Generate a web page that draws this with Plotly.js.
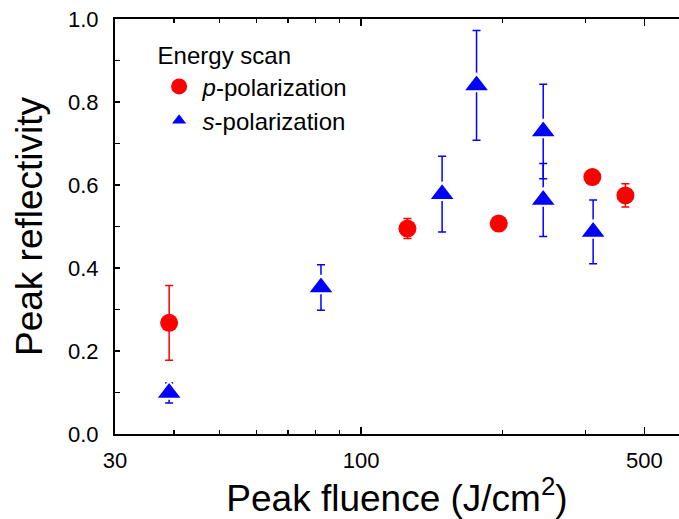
<!DOCTYPE html>
<html>
<head>
<meta charset="utf-8">
<script src="https://cdn.plot.ly/plotly-3.0.1.min.js"></script>
<style>
  html, body { margin: 0; padding: 0; background: #fff; overflow: hidden; }
  #chart { width: 679px; height: 519px; }
</style>
</head>
<body>
<div id="chart"></div>
<script>
// ---- data ----
// x axis: log scale; tick positions and the labels printed at them
const xTickVals = [30, 100, 400];
const xTickText = ["30", "100", "500"];
const xMinorVals = [40, 50, 60, 70, 80, 90, 200, 300];

// p-polarization (red circles)
const pFluence = [39.1, 125.5, 196.2, 310.2, 364.7];
const pRefl    = [0.268, 0.495, 0.507, 0.619, 0.575];
const pErr     = [0.090, 0.024, 0.0, 0.0, 0.028];

// s-polarization (blue triangles)
const sFluence = [39.1, 82.2, 148.7, 176.0, 243.9, 243.9, 311.4];
const sRefl    = [0.099, 0.353, 0.578, 0.840, 0.729, 0.564, 0.487];
const sErr     = [0.024, 0.055, 0.091, 0.132, 0.114, 0.088, 0.077];

const FONT = '"Liberation Sans", Arial, Helvetica, sans-serif';

const traces = [
  {
    x: pFluence, y: pRefl, type: 'scatter', mode: 'markers',
    name: '<i>p</i>-polarization',
    marker: { symbol: 'circle', size: 18, color: '#ff0000', line: { width: 0 } },
    error_y: { type: 'data', array: pErr, visible: true, color: '#ff0000', thickness: 1.5, width: 4 }
  },
  {
    x: sFluence, y: sRefl, type: 'scatter', mode: 'markers',
    name: '<i>s</i>-polarization',
    marker: { symbol: 'triangle-up', size: 23, color: '#0000ff', line: { color: '#ffffff', width: 2 } },
    error_y: { type: 'data', array: sErr, visible: true, color: '#0000ff', thickness: 1.5, width: 4 }
  }
];

const layout = {
  width: 679, height: 519,
  margin: { l: 115, r: 0, t: 19, b: 84.5, pad: 0 },
  paper_bgcolor: '#ffffff', plot_bgcolor: '#ffffff',
  font: { family: FONT, color: '#000000' },
  showlegend: true,
  legend: {
    x: 0.072, y: 0.966, xanchor: 'left', yanchor: 'top',
    bgcolor: 'rgba(0,0,0,0)', borderwidth: 0,
    title: { text: 'Energy scan', font: { family: FONT, size: 24, color: '#000' } },
    font: { family: FONT, size: 24, color: '#000' },
    itemwidth: 37
  },
  xaxis: {
    type: 'log',
    range: [Math.log10(30), 2.6758],
    tickmode: 'array', tickvals: xTickVals, ticktext: xTickText,
    ticks: 'inside', ticklen: 7, tickwidth: 1.5, tickcolor: '#000',
    minor: { tickmode: 'array', tickvals: xMinorVals, ticks: 'inside', ticklen: 4, tickwidth: 1.5, tickcolor: '#000', showgrid: false },
    showline: true, linewidth: 2, linecolor: '#000', mirror: 'allticks',
    showgrid: false, zeroline: false,
    tickfont: { family: FONT, size: 22, color: '#000' },
    ticklabelstandoff: 6,
    title: { text: 'Peak fluence (J/cm<sup>2</sup>)', font: { family: FONT, size: 37, color: '#000' }, standoff: 10 },
    automargin: false
  },
  yaxis: {
    range: [0, 1],
    tickmode: 'linear', tick0: 0, dtick: 0.2, tickformat: '.1f',
    ticks: 'inside', ticklen: 5, tickwidth: 1.5, tickcolor: '#000',
    minor: { dtick: 0.1, ticks: 'inside', ticklen: 5, tickwidth: 1.5, tickcolor: '#000', showgrid: false },
    showline: true, linewidth: 2, linecolor: '#000', mirror: false,
    showgrid: false, zeroline: false,
    tickfont: { family: FONT, size: 22, color: '#000' },
    ticklabelstandoff: 10,
    title: { text: 'Peak reflectivity', font: { family: FONT, size: 37, color: '#000' }, standoff: 14 },
    automargin: false
  }
};

Plotly.newPlot('chart', traces, layout, { staticPlot: true, displayModeBar: false });
</script>
</body>
</html>
